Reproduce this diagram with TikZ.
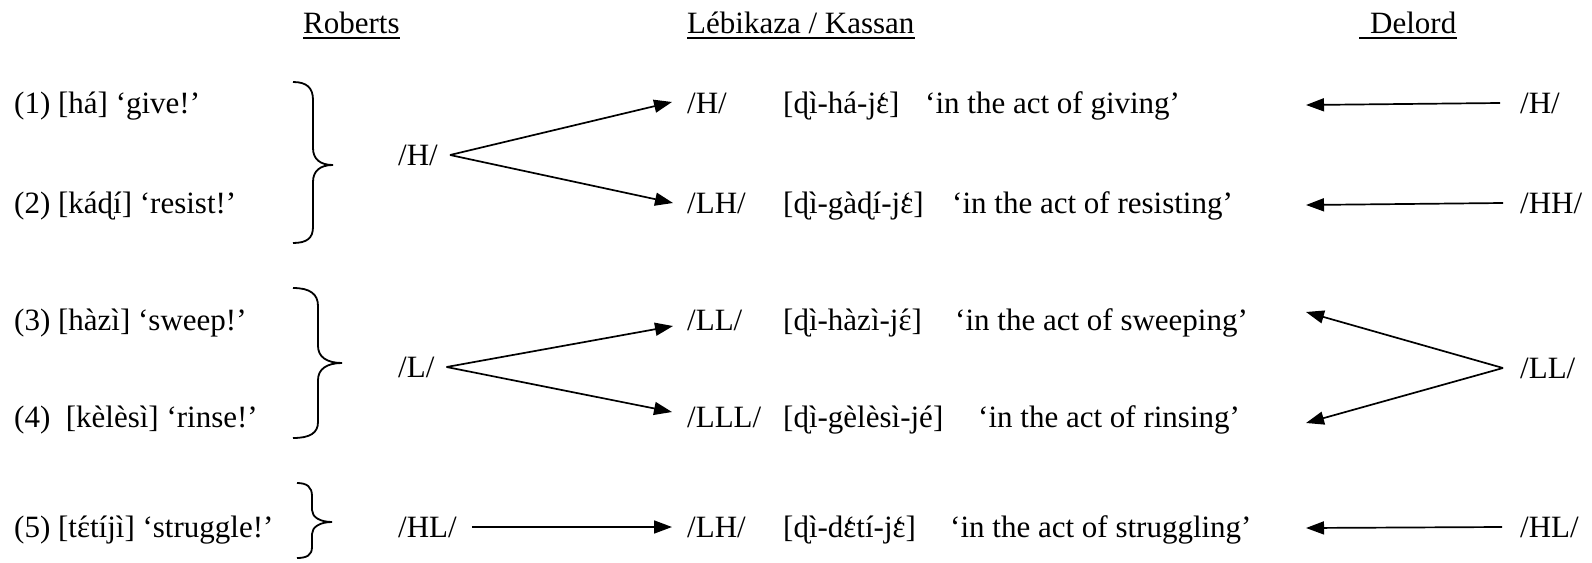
\documentclass[tikz,border=0pt]{standalone}
\usepackage{fontspec}
\setmainfont{Liberation Serif}
\usetikzlibrary{arrows.meta}
\newcommand\myEgr{{\accent"0060 ɛ}}
\newcommand\myEac{{\accent"00B4 ɛ}}
\begin{document}
\begin{tikzpicture}[x=1pt,y=-1pt,
  txt/.style={inner sep=0pt,anchor=base west,font=\fontsize{31}{37}\selectfont},
  lab/.style={txt,text height=20pt,text depth=0pt},
  arr/.style={line width=1.7pt,-{Triangle[length=18pt,width=13pt]}},
  bracestyle/.style={line width=1.8pt},
  uline/.style={line width=2pt}]
\useasboundingbox (0,0) rectangle (1592,562);
% headers
\node[txt] (hR) at (303,33) {Roberts};
\node[txt] (hL) at (687,33) {Lébikaza / Kassan};
\node[txt] (hD) at (1370,33) {Delord};
\draw[uline] ([yshift=-5pt]hR.base west) -- ([yshift=-5pt]hR.base east);
\draw[uline] ([yshift=-5pt]hL.base west) -- ([yshift=-5pt]hL.base east);
\draw[uline] ([xshift=-11pt,yshift=-5pt]hD.base west) -- ([yshift=-5pt]hD.base east);
% left examples
\node[txt] (e1) at (14,113) {(1) [há] ‘give!’};
\node[txt] (e2) at (14,213) {(2) [káɖí] ‘resist!’};
\node[txt] (e3) at (14,330) {(3) [hàzì] ‘sweep!’};
\node[txt] (e4) at (14,427) {(4)\ \ [kèlèsì] ‘rinse!’};
\node[txt] (e5) at (14,537) {(5) [t\myEac tíjì] ‘struggle!’};
% braces
\draw[bracestyle] (293,82) .. controls (307,82) and (313,88) .. (313,100) -- (313,148)
  .. controls (313,159) and (320,165) .. (333,165) .. controls (320,165) and (313,171) .. (313,182)
  -- (313,227) .. controls (313,238) and (307,243) .. (293,243);
\draw[bracestyle] (293,288) .. controls (310,288) and (318,294) .. (318,306) -- (318,346)
  .. controls (318,357) and (327,363) .. (342,363) .. controls (327,363) and (318,369) .. (318,380)
  -- (318,422) .. controls (318,433) and (310,438) .. (293,438);
\draw[bracestyle] (297,483) .. controls (307,483) and (312,487) .. (312,496) -- (312,510)
  .. controls (312,517) and (320,522) .. (332,522) .. controls (320,522) and (312,527) .. (312,534)
  -- (312,547) .. controls (312,555) and (307,558) .. (297,558);
% left tones
\node[lab] (lH) at (398,165) {/H/};
\node[lab] (lL) at (398,377) {/L/};
\node[lab] (lHL) at (398,537) {/HL/};
% middle tones
\node[lab] (m1) at (687,113) {/H/};
\node[lab] (m2) at (687,213) {/LH/};
\node[lab] (m3) at (687,330) {/LL/};
\node[lab] (m4) at (687,427) {/LLL/};
\node[lab] (m5) at (687,537) {/LH/};
% forms
\node[txt] (b1) at (783,113) {[ɖì-há-j\myEgr]};
\node[txt] (b2) at (783,213) {[ɖì-gàɖí-j\myEgr]};
\node[txt] (b3) at (783,330) {[ɖì-hàzì-j\myEac]};
\node[txt] (b4) at (783,427) {[ɖì-gèlèsì-jé]};
\node[txt] (b5) at (783,537) {[ɖì-d\myEgr tí-j\myEgr]};
% glosses
\node[txt] (g1) at (925,113) {‘in the act of giving’};
\node[txt] (g2) at (952,213) {‘in the act of resisting’};
\node[txt] (g3) at (955,330) {‘in the act of sweeping’};
\node[txt] (g4) at (978,427) {‘in the act of rinsing’};
\node[txt] (g5) at (950,537) {‘in the act of struggling’};
% right tones
\node[lab] (r1) at (1520,113) {/H/};
\node[lab] (r2) at (1520,213) {/HH/};
\node[lab] (r3) at (1520,378) {/LL/};
\node[lab] (r5) at (1520,537) {/HL/};
% right arrow ends
\coordinate (t1) at (1306,105);
\coordinate (t2) at (1306,205);
\coordinate (t3) at (1306,312);
\coordinate (t4) at (1306,423);
\coordinate (t5) at (1306,528);
% left arrows
\draw[arr] ([xshift=12pt]lH.east) -- ([xshift=-15pt,yshift=1pt]m1.west);
\draw[arr] ([xshift=12pt]lH.east) -- ([xshift=-14pt]m2.west);
\draw[arr] ([xshift=12pt]lL.east) -- ([xshift=-14pt,yshift=-6pt]m3.west);
\draw[arr] ([xshift=12pt]lL.east) -- ([xshift=-15pt,yshift=5pt]m4.west);
\draw[arr] ([xshift=15pt]lHL.east) -- ([xshift=-15pt]m5.west);
% right arrows
\draw[arr] ([xshift=-20pt]r1.west) -- (t1);
\draw[arr] ([xshift=-17pt]r2.west) -- (t2);
\draw[arr] ([xshift=-17pt]r3.west) -- (t3);
\draw[arr] ([xshift=-17pt]r3.west) -- (t4);
\draw[arr] ([xshift=-18pt]r5.west) -- (t5);
\end{tikzpicture}
\end{document}
